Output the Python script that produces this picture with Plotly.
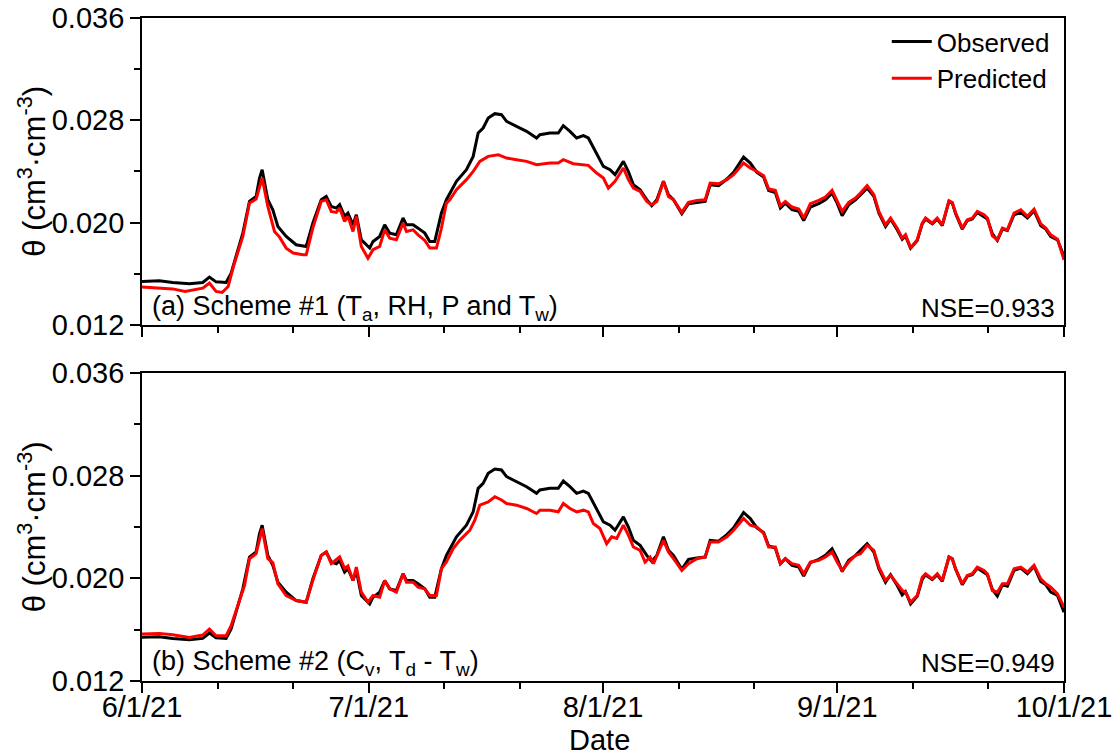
import pandas as pd
import plotly.graph_objects as go

START = "2021-06-01"

# Days since 6/1/21 and soil water content (cm3/cm3)
obs_day = [0, 2.3, 4.06, 6.27, 8.04, 8.92, 9.8, 11.13, 11.79, 12.45, 13.34, 14.22, 15.1, 15.55, 15.9,
           16.65, 17.31, 17.98, 19.08, 20.4, 21.73, 22.6, 23.72, 24.38, 25.04, 25.71, 26.15, 26.81,
           27.25, 27.92, 28.36, 29.02, 30.13, 30.57, 31.45, 32.11, 32.78, 33.66, 34.54, 34.99, 35.87,
           36.53, 37.42, 38.08, 38.74, 39.62, 40.28, 41.61, 42.93, 43.82, 44.48, 45.14, 45.81, 46.69,
           47.57, 48.24, 49.56, 50.89, 52.21, 52.65, 53.98, 55.08, 55.75, 56.63, 57.51, 58.4, 59.06,
           60.16, 61.05, 61.93, 62.59, 63.7, 64.36, 65.02, 65.91, 66.79, 67.45, 68.12, 69.0, 69.66,
           70.33, 71.43, 72.31, 73.42, 74.52, 75.18, 76.29, 77.39, 78.28, 79.6, 80.49, 81.37, 82.26,
           82.92, 83.8, 84.47, 85.13, 86.01, 86.9, 87.56, 88.44, 89.55, 90.43, 91.31, 91.98, 92.64,
           93.52, 94.41, 95.07, 95.95, 96.84, 97.5, 98.38, 99.05, 99.93, 100.59, 101.03, 101.7,
           102.58, 103.24, 103.68, 104.57, 105.23, 105.89, 106.78, 107.22, 107.66, 108.54, 109.21,
           109.87, 110.53, 111.42, 111.86, 112.52, 113.18, 113.85, 114.51, 115.39, 116.28, 117.16,
           118.04, 118.93, 119.59, 120.25, 121.14, 122.0]
obs_val = [0.01540, 0.01545, 0.01532, 0.01522, 0.01532, 0.01574, 0.01537, 0.01532, 0.01605, 0.01736,
           0.01918, 0.02166, 0.02205, 0.02349, 0.02414, 0.02179, 0.02101, 0.01970, 0.01892, 0.01827,
           0.01814, 0.01996, 0.02179, 0.02205, 0.02127, 0.02114, 0.02140, 0.02049, 0.02075, 0.01983,
           0.02062, 0.01866, 0.01801, 0.01853, 0.01892, 0.01983, 0.01918, 0.01905, 0.02036, 0.01983,
           0.01983, 0.01957, 0.01918, 0.01853, 0.01853, 0.02075, 0.02179, 0.02323, 0.02414, 0.02518,
           0.02701, 0.02740, 0.02818, 0.02852, 0.02844, 0.02792, 0.02753, 0.02714, 0.02662, 0.02688,
           0.02701, 0.02701, 0.02758, 0.02714, 0.02662, 0.02680, 0.02662, 0.02544, 0.02440, 0.02414,
           0.02375, 0.02479, 0.02400, 0.02296, 0.02257, 0.02179, 0.02132, 0.02179, 0.02323, 0.02218,
           0.02179, 0.02070, 0.02148, 0.02158, 0.02166, 0.02296, 0.02289, 0.02341, 0.02393, 0.02513,
           0.02466, 0.02393, 0.02356, 0.02252, 0.02236, 0.02114, 0.02153, 0.02101, 0.02088, 0.02017,
           0.02122, 0.02148, 0.02179, 0.02231, 0.02153, 0.02054, 0.02140, 0.02179, 0.02218, 0.02270,
           0.02205, 0.02075, 0.01970, 0.02028, 0.01944, 0.01871, 0.01897, 0.01801, 0.01861, 0.01991,
           0.02028, 0.01991, 0.02028, 0.01976, 0.02166, 0.02153, 0.02070, 0.01950, 0.02017, 0.02028,
           0.02080, 0.02049, 0.02028, 0.01913, 0.01861, 0.01950, 0.01939, 0.02062, 0.02080, 0.02036,
           0.02093, 0.01976, 0.01950, 0.01892, 0.01866, 0.01736]

pred1_day = [0, 2.3, 4.06, 5.7, 6.6, 8.04, 8.92, 9.8, 10.6, 11.4, 12.1, 13.34, 14.22, 15.1, 15.9, 16.65,
             17.53, 18.2, 19.08, 20.0, 21.3, 21.73, 22.6, 23.72, 24.38, 25.04, 25.71, 26.15, 26.81,
             27.25, 27.92, 28.36, 29.02, 29.9, 30.57, 31.45, 32.11, 32.78, 33.66, 34.54, 34.99, 35.87,
             36.53, 37.42, 38.08, 38.96, 39.6, 40.28, 40.73, 41.61, 42.93, 43.82, 44.7, 45.81, 47.14,
             48.24, 49.56, 50.89, 52.21, 53.98, 55.08, 55.75, 57.07, 58.4, 59.06, 60.16, 61.05, 61.71,
             62.59, 63.7, 64.36, 65.02, 65.91, 66.79, 67.45, 68.12, 69.0, 69.66, 70.33, 71.43, 72.31,
             73.42, 74.52, 75.18, 76.29, 77.39, 78.28, 79.6, 80.49, 81.37, 82.26, 82.92, 83.8, 84.47,
             85.13, 86.01, 86.9, 87.56, 88.44, 89.55, 90.43, 91.31, 91.98, 92.64, 93.52, 94.41, 95.07,
             95.95, 96.84, 97.5, 98.38, 99.05, 99.93, 100.59, 101.03, 101.7, 102.58, 103.24, 103.68,
             104.57, 105.23, 105.89, 106.78, 107.22, 107.66, 108.54, 109.21, 109.87, 110.53, 111.42,
             111.86, 112.52, 113.18, 113.85, 114.51, 115.39, 116.28, 117.16, 118.04, 118.93, 119.59,
             120.25, 121.14, 122.0]
pred1_val = [0.01496, 0.01488, 0.01482, 0.01462, 0.01470, 0.01488, 0.01527, 0.01462, 0.01454, 0.01501,
             0.01657, 0.01892, 0.02153, 0.02184, 0.02349, 0.02127, 0.01931, 0.01887, 0.01801, 0.01762,
             0.01749, 0.01749, 0.01957, 0.02166, 0.02179, 0.02088, 0.02080, 0.02114, 0.02010, 0.02049,
             0.01931, 0.02049, 0.01814, 0.01722, 0.01788, 0.01814, 0.01944, 0.01879, 0.01866, 0.01996,
             0.01931, 0.01944, 0.01905, 0.01861, 0.01801, 0.01801, 0.01950, 0.02153, 0.02179, 0.02257,
             0.02336, 0.02400, 0.02479, 0.02518, 0.02531, 0.02505, 0.02492, 0.02479, 0.02453, 0.02466,
             0.02466, 0.02492, 0.02461, 0.02453, 0.02448, 0.02388, 0.02349, 0.02270, 0.02323, 0.02427,
             0.02336, 0.02270, 0.02244, 0.02166, 0.02140, 0.02166, 0.02323, 0.02205, 0.02179, 0.02080,
             0.02158, 0.02174, 0.02179, 0.02310, 0.02304, 0.02336, 0.02375, 0.02466, 0.02427, 0.02400,
             0.02367, 0.02263, 0.02252, 0.02132, 0.02166, 0.02122, 0.02106, 0.02036, 0.02148, 0.02174,
             0.02200, 0.02252, 0.02174, 0.02088, 0.02158, 0.02192, 0.02231, 0.02289, 0.02218, 0.02088,
             0.01983, 0.02036, 0.01957, 0.01879, 0.01905, 0.01801, 0.01866, 0.01996, 0.02036, 0.01996,
             0.02036, 0.01983, 0.02171, 0.02158, 0.02075, 0.01957, 0.02022, 0.02036, 0.02088, 0.02062,
             0.02036, 0.01897, 0.01866, 0.01957, 0.01944, 0.02075, 0.02101, 0.02049, 0.02106, 0.01991,
             0.01957, 0.01905, 0.01871, 0.01710]

pred2_day = [0, 2.3, 4.06, 6.27, 8.04, 8.92, 9.8, 11.13, 11.79, 12.23, 12.9, 13.56, 14.22, 15.1, 15.9,
             16.65, 17.31, 17.98, 19.08, 20.4, 21.73, 22.6, 23.72, 24.38, 25.04, 25.71, 26.15, 26.81,
             27.25, 27.92, 28.36, 29.02, 29.9, 30.57, 31.45, 32.11, 32.78, 33.66, 34.54, 34.99, 35.87,
             36.53, 37.42, 38.08, 38.96, 39.62, 40.28, 41.17, 42.05, 43.38, 44.04, 44.7, 45.81, 46.69,
             47.57, 48.24, 49.56, 50.89, 52.21, 52.65, 53.98, 55.08, 55.75, 56.63, 57.51, 58.4, 59.06,
             59.72, 60.6, 61.49, 62.15, 62.82, 63.7, 64.36, 65.02, 65.91, 66.57, 67.23, 67.68, 69.0,
             69.66, 70.33, 71.43, 72.31, 73.42, 74.52, 75.18, 76.29, 77.39, 78.28, 79.6, 80.49, 81.37,
             82.26, 82.92, 83.8, 84.47, 85.13, 86.01, 86.9, 87.56, 88.44, 89.55, 90.43, 91.31, 91.98,
             92.64, 93.52, 94.41, 95.07, 95.95, 96.84, 97.5, 98.38, 99.05, 99.93, 100.59, 101.03, 101.7,
             102.58, 103.24, 103.68, 104.57, 105.23, 105.89, 106.78, 107.22, 107.66, 108.54, 109.21,
             109.87, 110.53, 111.42, 111.86, 112.52, 113.18, 113.85, 114.51, 115.39, 116.28, 117.16,
             118.04, 118.93, 119.59, 120.25, 121.14, 122.0]
pred2_val = [0.01566, 0.01571, 0.01561, 0.01540, 0.01558, 0.01605, 0.01553, 0.01553, 0.01631, 0.01710,
             0.01840, 0.01944, 0.02153, 0.02192, 0.02388, 0.02153, 0.02122, 0.01957, 0.01866, 0.01827,
             0.01814, 0.01983, 0.02179, 0.02205, 0.02114, 0.02148, 0.02166, 0.02075, 0.02096, 0.01983,
             0.02088, 0.01892, 0.01814, 0.01866, 0.01853, 0.01983, 0.01918, 0.01892, 0.02036, 0.01970,
             0.01970, 0.01931, 0.01918, 0.01866, 0.01866, 0.02075, 0.02127, 0.02231, 0.02296, 0.02375,
             0.02453, 0.02570, 0.02596, 0.02636, 0.02610, 0.02583, 0.02570, 0.02544, 0.02505, 0.02531,
             0.02531, 0.02518, 0.02583, 0.02544, 0.02518, 0.02531, 0.02518, 0.02427, 0.02388, 0.02270,
             0.02323, 0.02310, 0.02414, 0.02336, 0.02244, 0.02218, 0.02127, 0.02166, 0.02114, 0.02296,
             0.02205, 0.02153, 0.02062, 0.02114, 0.02153, 0.02166, 0.02283, 0.02283, 0.02323, 0.02375,
             0.02466, 0.02414, 0.02400, 0.02349, 0.02244, 0.02244, 0.02114, 0.02153, 0.02114, 0.02101,
             0.02036, 0.02127, 0.02140, 0.02166, 0.02205, 0.02127, 0.02062, 0.02127, 0.02179, 0.02192,
             0.02257, 0.02218, 0.02088, 0.01983, 0.02022, 0.01957, 0.01905, 0.01892, 0.01814, 0.01866,
             0.02009, 0.02036, 0.01996, 0.02036, 0.01983, 0.02166, 0.02153, 0.02075, 0.01957, 0.02022,
             0.02036, 0.02088, 0.02062, 0.02036, 0.01905, 0.01892, 0.01957, 0.01957, 0.02075, 0.02088,
             0.02049, 0.02101, 0.01996, 0.01957, 0.01931, 0.01879, 0.01775]

major_dates = ["2021-06-01", "2021-07-01", "2021-08-01", "2021-09-01", "2021-10-01"]
major_labels = ["6/1/21", "7/1/21", "8/1/21", "9/1/21", "10/1/21"]
minor_dates = ["2021-06-11", "2021-06-21", "2021-07-11", "2021-07-21",
               "2021-08-11", "2021-08-21", "2021-09-11", "2021-09-21"]
y_ticks = [0.012, 0.020, 0.028, 0.036]
y_labels = ["0.012", "0.020", "0.028", "0.036"]
y_minor = [0.016, 0.024, 0.032]
series_names = ["Observed", "Predicted"]
panel_labels = ["(a) Scheme #1 (T<sub>a</sub>, RH, P and T<sub>w</sub>)",
                "(b) Scheme #2 (C<sub>v</sub>, T<sub>d</sub> - T<sub>w</sub>)"]
nse_labels = ["NSE=0.933", "NSE=0.949"]


def to_dates(days):
    return pd.Timestamp(START) + pd.to_timedelta(days, unit="D")


FONT = "Liberation Sans, Arial, sans-serif"
LW = 3

fig = go.Figure()
obs_x = to_dates(obs_day)
fig.add_trace(go.Scatter(x=obs_x, y=obs_val, mode="lines", name=series_names[0],
                         line=dict(color="black", width=LW), xaxis="x", yaxis="y"))
fig.add_trace(go.Scatter(x=to_dates(pred1_day), y=pred1_val, mode="lines", name=series_names[1],
                         line=dict(color="#ff0000", width=LW), xaxis="x", yaxis="y"))
fig.add_trace(go.Scatter(x=obs_x, y=obs_val, mode="lines", name=series_names[0], showlegend=False,
                         line=dict(color="black", width=LW), xaxis="x2", yaxis="y2"))
fig.add_trace(go.Scatter(x=to_dates(pred2_day), y=pred2_val, mode="lines", name=series_names[1],
                         showlegend=False, line=dict(color="#ff0000", width=LW), xaxis="x2", yaxis="y2"))

AXW = 1.8
tickfont = dict(family=FONT, size=29, color="black")


def xaxis_cfg(anchor, labels):
    return dict(anchor=anchor, domain=[0, 1], type="date", automargin=False,
                range=[major_dates[0], major_dates[-1]],
                tickmode="array", tickvals=major_dates, ticktext=major_labels,
                showticklabels=labels, ticks="outside", ticklen=10, tickwidth=AXW,
                tickcolor="black", tickfont=tickfont, ticklabelstandoff=-11,
                showline=True, linecolor="black", linewidth=AXW, mirror=True,
                showgrid=False, zeroline=False,
                minor=dict(tickmode="array", tickvals=minor_dates, ticks="outside",
                           ticklen=6, tickwidth=AXW, tickcolor="black", showgrid=False))


def yaxis_cfg(anchor, domain):
    return dict(anchor=anchor, domain=domain, range=[0.012, 0.036], automargin=False,
                tickmode="array", tickvals=y_ticks, ticktext=y_labels,
                ticks="outside", ticklen=10, tickwidth=AXW, tickcolor="black",
                tickfont=tickfont,
                showline=True, linecolor="black", linewidth=AXW, mirror=True,
                showgrid=False, zeroline=False,
                minor=dict(tickmode="array", tickvals=y_minor, ticks="outside",
                           ticklen=6, tickwidth=AXW, tickcolor="black", showgrid=False))


ann_font = dict(family=FONT, size=26, color="black")
annotations = []
ytitle = "θ (cm<sup>3</sup>·cm<sup>-3</sup>)"
for yc in [0.7685, 0.2323]:
    annotations.append(dict(text=ytitle, xref="paper", yref="paper", x=-0.119, y=yc,
                            xanchor="center", yanchor="middle", textangle=-90,
                            showarrow=False, font=dict(family=FONT, size=31, color="black")))
for lbl, nse, yc in zip(panel_labels, nse_labels, [0.5626, 0.0271]):
    annotations.append(dict(text=lbl, xref="paper", yref="paper", x=0.009, y=yc,
                            xanchor="left", yanchor="middle", showarrow=False,
                            font=dict(family=FONT, size=27, color="black")))
    annotations.append(dict(text=nse, xref="paper", yref="paper", x=0.992, y=yc,
                            xanchor="right", yanchor="middle", showarrow=False, font=ann_font))
annotations.append(dict(text="Date", xref="paper", yref="paper", x=0.4967, y=-0.089,
                        xanchor="center", yanchor="middle", showarrow=False,
                        font=dict(family=FONT, size=29, color="black")))

fig.update_layout(
    width=1116, height=755, autosize=False,
    margin=dict(l=142, r=52, t=18, b=74),
    paper_bgcolor="white", plot_bgcolor="white",
    font=dict(family=FONT, color="black"),
    xaxis=xaxis_cfg("y", False),
    yaxis=yaxis_cfg("x", [0.537, 1.0]),
    xaxis2=xaxis_cfg("y2", True),
    yaxis2=yaxis_cfg("x2", [0.0, 0.4646]),
    legend=dict(x=0.99, y=1.0, xanchor="right", yanchor="top",
                bgcolor="rgba(0,0,0,0)", font=ann_font, tracegroupgap=0,
                itemwidth=40),
    annotations=annotations,
    showlegend=True,
)

fig.write_html("out.html", config={"displayModeBar": False},
               post_script="document.body.style.margin='0';document.body.style.overflow='hidden';")
